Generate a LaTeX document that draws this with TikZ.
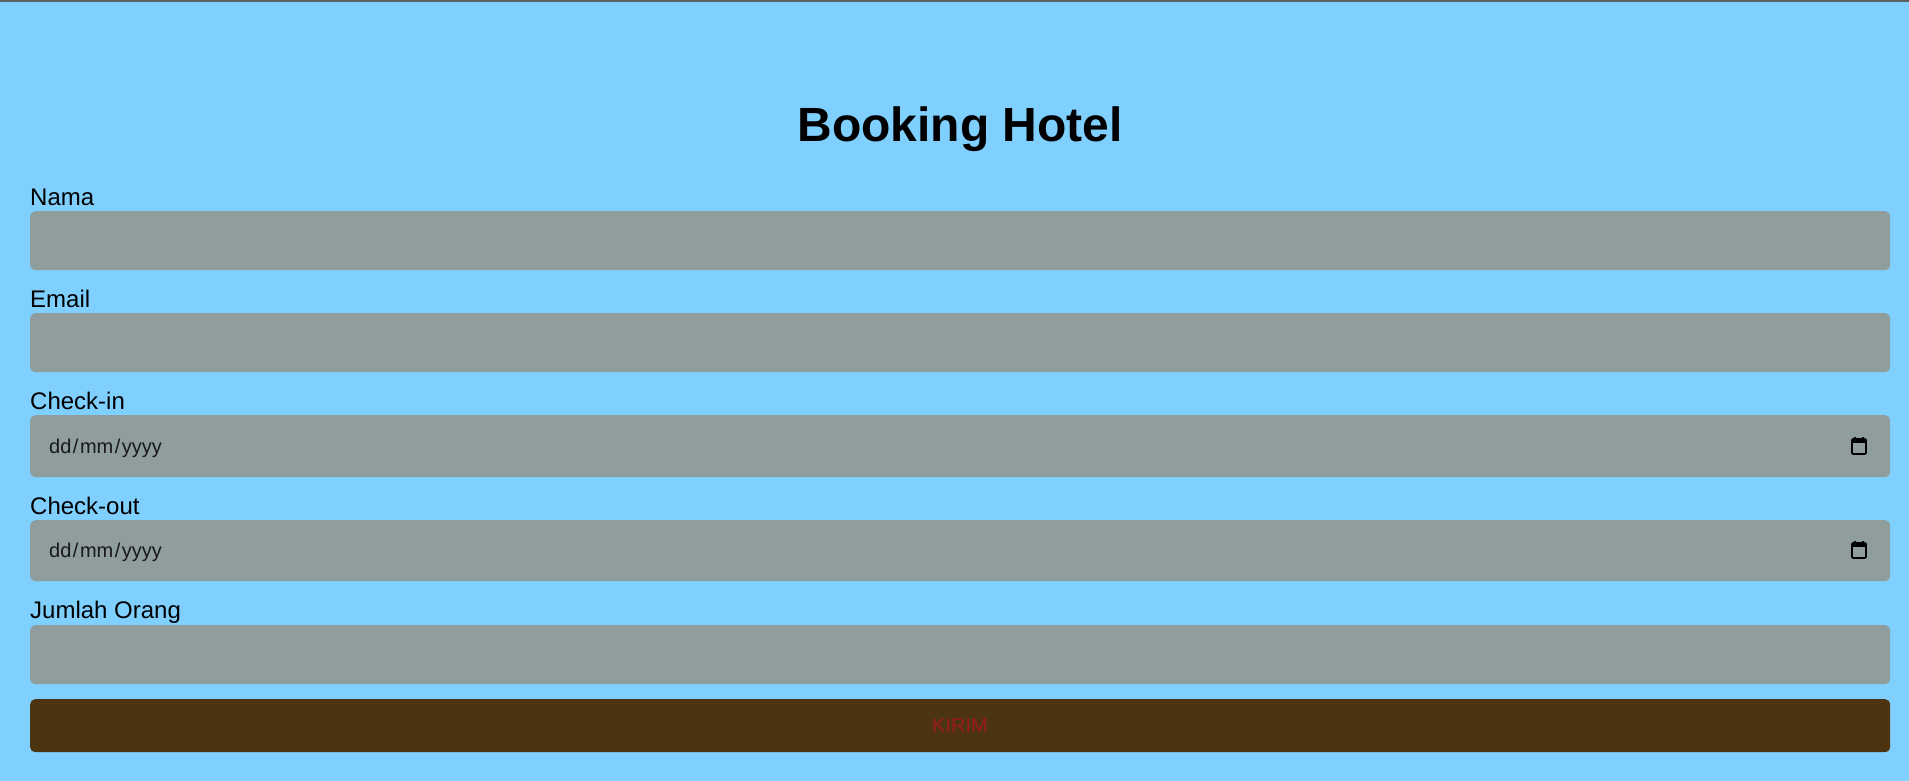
\documentclass[tikz,border=0pt]{standalone}
\usepackage{fontspec}
\setmainfont{Liberation Sans}
\definecolor{bgblue}{HTML}{7FCFFF}
\definecolor{fieldgray}{HTML}{8F9E9C}
\definecolor{btnbrown}{HTML}{4D3411}
\definecolor{btntext}{HTML}{9B1B1B}
\definecolor{topbar}{HTML}{5F5F5F}
\newcommand{\dsl}{\hspace{1.5pt}/\hspace{1.5pt}}
\begin{document}
\begin{tikzpicture}[x=1pt,y=-1pt,
  field/.style={fill=fieldgray,draw=none,rounded corners=5pt,minimum width=1860pt,anchor=north west,inner sep=0pt},
  lbl/.style={anchor=base west,inner sep=0pt,font=\fontsize{24pt}{28pt}\selectfont},
  datetxt/.style={anchor=base west,inner sep=0pt,font=\fontsize{20pt}{24pt}\selectfont,text=black!90},
  calicon/.style={draw=black,line width=1.6pt,rounded corners=1pt}]
\useasboundingbox (0,0) rectangle (1909,781);
\fill[bgblue] (0,0) rectangle (1909,781);
\fill[topbar] (0,0) rectangle (1909,2);
% title
\node[anchor=base,inner sep=0pt,font=\fontsize{48pt}{56pt}\selectfont\bfseries] (title) at (960,142) {Booking Hotel};
% Nama
\node[lbl] (lnama) at (30,205) {Nama};
\node[field,minimum height=59pt] (fnama) at (30,211) {};
% Email
\node[lbl] (lemail) at (30,307) {Email};
\node[field,minimum height=59pt] (femail) at (30,313) {};
% Check-in
\node[lbl] (lin) at (30,409) {Check-in};
\node[field,minimum height=62pt] (fin) at (30,415) {};
\node[datetxt] (din) at (49,453) {dd\dsl mm\dsl yyyy};
% Check-out
\node[lbl] (lout) at (30,514) {Check-out};
\node[field,minimum height=61pt] (fout) at (30,520) {};
\node[datetxt] (dout) at (49,557) {dd\dsl mm\dsl yyyy};
% Jumlah Orang
\node[lbl] (ljml) at (30,618) {Jumlah Orang};
\node[field,minimum height=59pt] (fjml) at (30,625) {};
% button
\node[field,fill=btnbrown,minimum height=53pt] (btn) at (30,699) {};
\node[anchor=base,inner sep=0pt,font=\fontsize{20pt}{24pt}\selectfont,text=btntext] (kirim) at (960,732) {KIRIM};
% calendar icons
\foreach \yy in {437,541}{
  \draw[calicon] (1852,\yy+2) rectangle (1866,\yy+17);
  \fill[black] (1852,\yy+2) rectangle (1866,\yy+6);
  \draw[line width=1.6pt] (1855,\yy) -- (1855,\yy+3) (1863,\yy) -- (1863,\yy+3);
}
\end{tikzpicture}
\end{document}
